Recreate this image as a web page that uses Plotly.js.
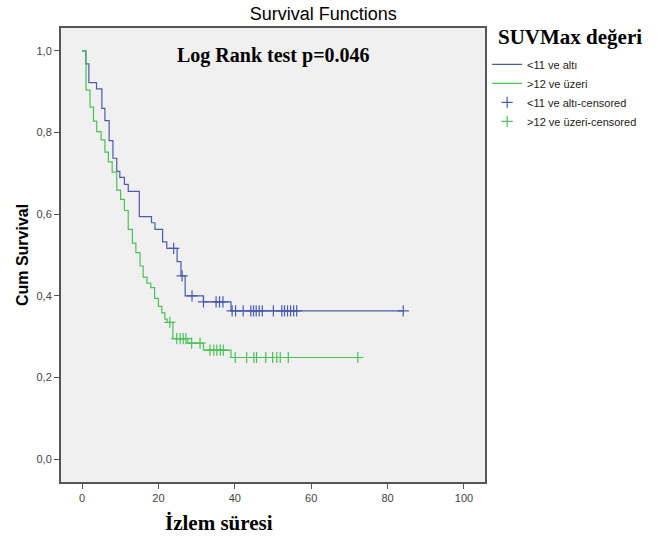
<!DOCTYPE html>
<html>
<head>
<meta charset="utf-8">
<script src="https://cdn.plot.ly/plotly-3.0.1.min.js"></script>
<style>html,body{margin:0;padding:0;background:#fff;}#chart{width:657px;height:537px;}</style>
</head>
<body>
<div id="chart"></div>
<script>
// Group "<11 ve altı" (blue) – event times and survival after each step
const blueTimes = [0, 1.0, 1.8, 3.8, 5.2, 6.0, 7.1, 8.1, 9.1, 9.9, 11.1, 12.1, 15.0, 18.2, 19.1, 21.1, 22.2, 24.9, 25.9, 27.0, 31.8, 39.0];
const blueSurv  = [1.0, 0.968, 0.922, 0.907, 0.859, 0.829, 0.780, 0.737, 0.705, 0.690, 0.673, 0.656, 0.594, 0.579, 0.563, 0.532, 0.516, 0.484, 0.449, 0.400, 0.385, 0.363];
const blueCensored = [24.0, 26.2, 28.8, 31.8, 35.1, 36.0, 36.9, 39.3, 40.2, 42.2, 44.2, 44.9, 45.6, 46.4, 47.2, 50.1, 52.3, 53.0, 53.8, 54.6, 55.4, 56.2, 84.1];

// Group ">12 ve üzeri" (green)
const greenTimes = [0, 1.05, 2.1, 3.0, 3.85, 5.0, 6.0, 6.9, 7.9, 9.1, 10.1, 11.1, 12.1, 13.2, 14.1, 15.2, 16.0, 17.0, 18.0, 19.0, 20.0, 20.9, 21.7, 22.3, 23.8, 27.7, 31.8, 39.0];
const greenSurv  = [1.0, 0.904, 0.862, 0.828, 0.802, 0.782, 0.752, 0.728, 0.703, 0.659, 0.636, 0.609, 0.563, 0.529, 0.506, 0.473, 0.446, 0.431, 0.420, 0.394, 0.374, 0.358, 0.343, 0.335, 0.295, 0.284, 0.267, 0.249];
const greenCensored = [23.0, 24.8, 25.7, 26.5, 27.2, 28.7, 30.9, 33.5, 34.5, 35.3, 36.2, 37.0, 40.1, 43.1, 45.0, 45.7, 48.1, 49.9, 51.0, 51.9, 54.0, 72.2];

const seriesNames = ["<11 ve altı", ">12 ve üzeri"];
const xTicks = [0, 20, 40, 60, 80, 100];
const yTicks = [0, 0.2, 0.4, 0.6, 0.8, 1.0];

function survAt(times, surv, t) {
  let s = surv[0];
  for (let i = 0; i < times.length; i++) { if (times[i] <= t) s = surv[i]; }
  return s;
}
function stepTrace(times, surv, censored, name, color) {
  const lastT = Math.max(times[times.length - 1], censored[censored.length - 1]);
  return {
    x: times.concat([lastT]), y: surv.concat([surv[surv.length - 1]]),
    type: 'scatter', mode: 'lines', name: name,
    line: {shape: 'hv', color: color, width: 1.2},
    hoverinfo: 'skip'
  };
}
function censorTrace(times, surv, censored, name, color) {
  return {
    x: censored, y: censored.map(t => survAt(times, surv, t)),
    type: 'scatter', mode: 'markers', name: name + '-censored',
    marker: {symbol: 'cross-thin-open', size: 8, line: {color: color, width: 1.2}, color: color},
    hoverinfo: 'skip'
  };
}
const BLUE = '#4a5cae', GREEN = '#4cc158';
const data = [
  stepTrace(blueTimes, blueSurv, blueCensored, seriesNames[0], BLUE),
  stepTrace(greenTimes, greenSurv, greenCensored, seriesNames[1], GREEN),
  censorTrace(blueTimes, blueSurv, blueCensored, seriesNames[0], BLUE),
  censorTrace(greenTimes, greenSurv, greenCensored, seriesNames[1], GREEN)
];
const axisCommon = {
  showline: true, mirror: true, linecolor: '#555', linewidth: 2,
  ticks: 'outside', ticklen: 5, tickcolor: '#555', tickwidth: 1,
  showgrid: false, zeroline: false,
  tickfont: {family: 'Liberation Sans, Arial, sans-serif', size: 11, color: '#444'}
};
const layout = {
  width: 657, height: 537,
  margin: {l: 61, r: 172, t: 28, b: 55},
  paper_bgcolor: '#ffffff', plot_bgcolor: '#f0f0f0',
  separators: ',.',
  title: {text: 'Survival Functions', font: {family: 'Liberation Sans, Arial, sans-serif', size: 18, color: '#000'},
          xref: 'container', yref: 'container', x: 0.492, y: 0.974, xanchor: 'center', yanchor: 'middle'},
  xaxis: Object.assign({}, axisCommon, {range: [-5.5, 105.5], tickvals: xTicks}),
  yaxis: Object.assign({}, axisCommon, {range: [-0.056, 1.056], tickvals: yTicks, tickformat: '.1f',
    title: {text: '<b>Cum Survival</b>', standoff: 4, font: {family: 'Liberation Sans, Arial, sans-serif', size: 16, color: '#000'}}}),
  showlegend: true,
  legend: {x: 1.005, y: 0.952, xanchor: 'left', yanchor: 'top', bgcolor: 'rgba(0,0,0,0)',
           font: {family: 'Liberation Sans, Arial, sans-serif', size: 11, color: '#222'}, itemwidth: 30, tracegroupgap: 0},
  annotations: [
    {text: '<b>Log Rank test p=0.046</b>', xref: 'paper', yref: 'paper', x: 0.502, y: 0.940, xanchor: 'center', yanchor: 'middle',
     showarrow: false, font: {family: 'Liberation Serif, Times New Roman, serif', size: 20, color: '#000'}},
    {text: '<b>SUVMax değeri</b>', xref: 'paper', yref: 'paper', x: 1.026, y: 0.980, xanchor: 'left', yanchor: 'middle',
     showarrow: false, font: {family: 'Liberation Serif, Times New Roman, serif', size: 21, color: '#000'}},
    {text: '<b>İzlem süresi</b>', xref: 'paper', yref: 'paper', x: 0.373, y: -0.090, xanchor: 'center', yanchor: 'middle',
     showarrow: false, font: {family: 'Liberation Serif, Times New Roman, serif', size: 21, color: '#000'}}
  ]
};
Plotly.newPlot('chart', data, layout, {displayModeBar: false, staticPlot: true});
</script>
</body>
</html>
